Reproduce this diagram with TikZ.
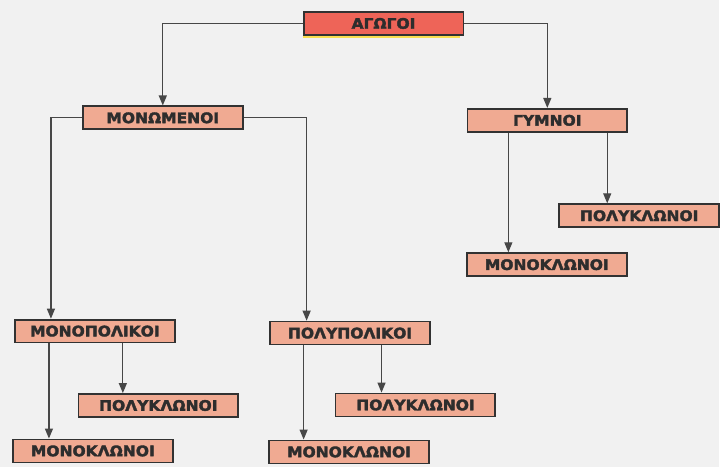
\documentclass[tikz,border=0pt]{standalone}
\usepackage{fontspec}
\newfontfamily\boxfont[FakeStretch=1.07,FakeBold=2.4]{DejaVu Sans Bold}
\usetikzlibrary{arrows.meta}
\definecolor{paper}{RGB}{241,241,241}
\definecolor{boxfill}{RGB}{240,170,146}
\definecolor{rootfill}{RGB}{238,100,88}
\definecolor{edge}{RGB}{50,50,50}
\definecolor{ink}{RGB}{45,45,45}
\definecolor{glow}{RGB}{250,222,80}
\begin{document}
\begin{tikzpicture}[x=1pt,y=-1pt,
  box/.style={draw=edge, line width=1.8pt, fill=boxfill, minimum width=160pt,
    minimum height=23pt, inner sep=0pt, text=ink,
    font=\boxfont\fontsize{14.5}{16}\selectfont},
  rootbox/.style={box, fill=rootfill},
  arr/.style={draw=edge!90, line width=1.2pt, -{Triangle[length=10pt,width=8pt]}}]
\fill[paper] (0,0) rectangle (720,468);
% top level
\fill[glow] (303,16) rectangle (461,38);
\node[rootbox] (agogoi) at (384,23.5) {ΑΓΩΓΟΙ};
\node[box] (monom) at (163,118) {ΜΟΝΩΜΕΝΟΙ};
\node[box] (gymn) at (548,120.5) {ΓΥΜΝΟΙ};
% under the insulated ones
\node[box] (monopol) at (95,331.5) {ΜΟΝΟΠΟΛΙΚΟΙ};
\node[box] (polypol) at (350.5,333.5) {ΠΟΛΥΠΟΛΙΚΟΙ};
\node[box] (mopolk) at (158.5,406) {ΠΟΛΥΚΛΩΝΟΙ};
\node[box] (momonk) at (93,451.5) {ΜΟΝΟΚΛΩΝΟΙ};
\node[box] (popolk) at (416,405.5) {ΠΟΛΥΚΛΩΝΟΙ};
\node[box] (pomonk) at (349.5,452.5) {ΜΟΝΟΚΛΩΝΟΙ};
% under the bare ones
\node[box] (gypolk) at (640,216) {ΠΟΛΥΚΛΩΝΟΙ};
\node[box] (gymonk) at (547.5,265) {ΜΟΝΟΚΛΩΝΟΙ};
% connectors
\draw[arr] (agogoi.west) -| (monom.north);
\draw[arr] (agogoi.east) -| (gymn.north);
\coordinate (c1) at (51,0);
\coordinate (c2) at (307,0);
\draw[arr] (monom.west) -| (c1 |- monopol.north);
\draw[arr] (monom.east) -| (c2 |- polypol.north);
\coordinate (d1) at (49,0);
\coordinate (d2) at (123,0);
\coordinate (d3) at (304,0);
\coordinate (d4) at (382,0);
\coordinate (d5) at (509,0);
\coordinate (d6) at (608,0);
\draw[arr] (d1 |- monopol.south) -- (d1 |- momonk.north);
\draw[arr] (d2 |- monopol.south) -- (d2 |- mopolk.north);
\draw[arr] (d3 |- polypol.south) -- (d3 |- pomonk.north);
\draw[arr] (d4 |- polypol.south) -- (d4 |- popolk.north);
\draw[arr] (d5 |- gymn.south) -- (d5 |- gymonk.north);
\draw[arr] (d6 |- gymn.south) -- (d6 |- gypolk.north);
\end{tikzpicture}
\end{document}
